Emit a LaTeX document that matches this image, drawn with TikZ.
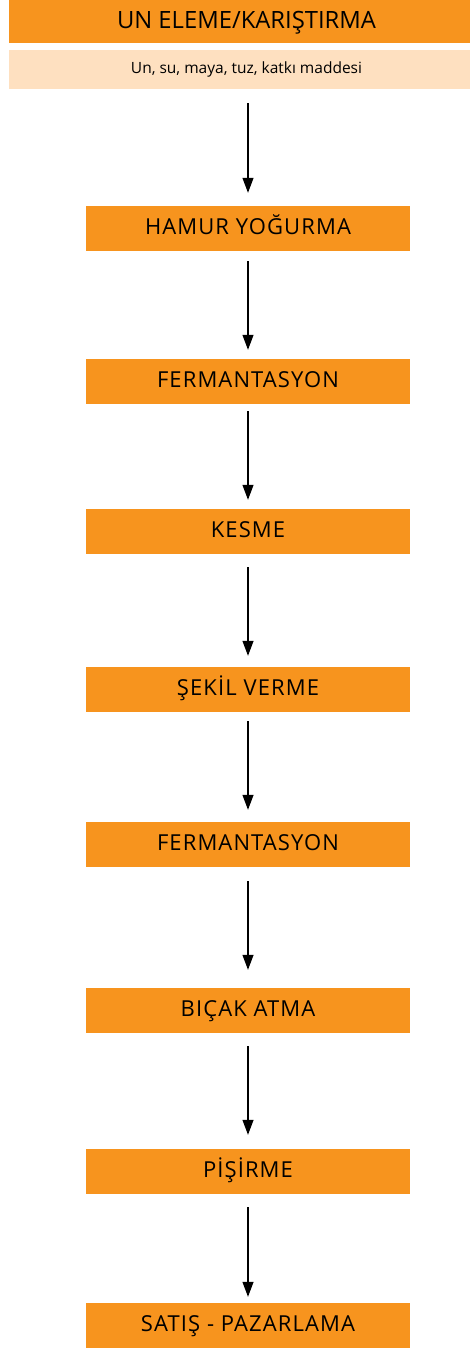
\documentclass[tikz,border=0pt]{standalone}
\usepackage{fontspec}
\setmainfont{Open Sans}
\newfontfamily\stepfont[LetterSpace=5]{Open Sans}
\usetikzlibrary{arrows.meta}
\definecolor{orangebox}{RGB}{247,148,30}
\definecolor{peach}{RGB}{254,224,192}
\tikzset{
  stepbox/.style={fill=orangebox, minimum width=324pt, minimum height=45pt, inner sep=0pt,
    font=\stepfont\fontsize{22}{23}\selectfont, text height=15.7pt, text depth=4pt},
  titlebox/.style={fill=orangebox, minimum width=475pt, minimum height=43pt, inner sep=0pt,
    font=\fontsize{23.8}{24}\selectfont, text height=17pt, text depth=3.6pt},
  notebox/.style={fill=peach, minimum width=475pt, minimum height=39pt, inner sep=0pt,
    font=\fontsize{15.5}{16}\selectfont, text height=11.1pt, text depth=2.4pt},
  flow/.style={-{Triangle[width=11pt,length=15pt]}, line width=1.2pt, black}
}
\begin{document}
\begin{tikzpicture}[x=1pt,y=-1pt]
\useasboundingbox (0,0) rectangle (470,1351);
\begin{scope}
\clip (0,0) rectangle (470,1351);
\node[titlebox] (t) at (246.5,21.5) {UN ELEME/KARIŞTIRMA};
\node[notebox] (n) at (246.5,69.5) {Un, su, maya, tuz, katkı maddesi};
\end{scope}
\node[stepbox] (s1) at (248,228.5) {HAMUR YOĞURMA};
\node[stepbox] (s2) at (248,381.5) {FERMANTASYON};
\node[stepbox] (s3) at (248,531.5) {KESME};
\node[stepbox] (s4) at (248,689.5) {ŞEKİL VERME};
\node[stepbox] (s5) at (248,844.5) {FERMANTASYON};
\node[stepbox] (s6) at (248,1010.5) {BIÇAK ATMA};
\node[stepbox] (s7) at (248,1171.5) {PİŞİRME};
\node[stepbox] (s8) at (248,1325.5) {SATIŞ - PAZARLAMA};
\draw[flow, shorten <=14pt, shorten >=13pt] (s1.north |- n.south) -- (s1.north);
\draw[flow, shorten <=10pt, shorten >=9pt] (s1.south) -- (s2.north);
\draw[flow, shorten <=7pt, shorten >=9pt] (s2.south) -- (s3.north);
\draw[flow, shorten <=13pt, shorten >=11pt] (s3.south) -- (s4.north);
\draw[flow, shorten <=9pt, shorten >=12pt] (s4.south) -- (s5.north);
\draw[flow, shorten <=14pt, shorten >=18pt] (s5.south) -- (s6.north);
\draw[flow, shorten <=13pt, shorten >=14pt] (s6.south) -- (s7.north);
\draw[flow, shorten <=13pt, shorten >=6pt] (s7.south) -- (s8.north);
\end{tikzpicture}
\end{document}
